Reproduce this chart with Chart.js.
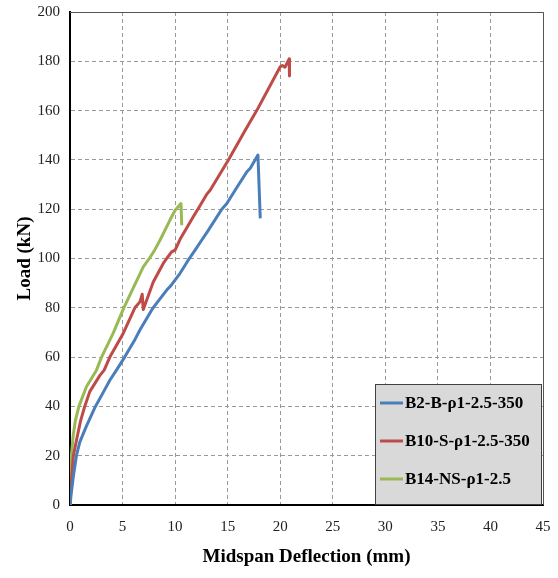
<!DOCTYPE html>
<html>
<head>
<meta charset="utf-8">
<script src="https://cdn.jsdelivr.net/npm/chart.js@4/dist/chart.umd.min.js"></script>
<style>
  html, body { margin: 0; padding: 0; background: #fff; }
  #wrap { width: 558px; height: 578px; }
</style>
</head>
<body>
<div id="wrap"><canvas id="chart" width="558" height="578"></canvas></div>
<script>
const seriesNames = ['B2-B-\u03c11-2.5-350', 'B10-S-\u03c11-2.5-350', 'B14-NS-\u03c11-2.5'];
const seriesColors = ['#4a7ebb', '#be4b48', '#98b954'];

// midspan deflection (mm) / load (kN)
const b2Defl = [0, 0.1, 0.3, 0.61, 0.93, 1.56, 2.42, 3.2, 3.79, 4.42, 5.2, 6.1, 6.65, 7.9, 9.2, 9.6, 10.47, 11.2, 11.9, 12.38, 13.17, 14.44, 14.92, 15.9, 16.83, 17.15, 17.88, 18.1];
const b2Load = [0, 4, 11, 20, 25.5, 32, 40, 46, 50.6, 54.7, 60, 66.5, 71, 80, 87.2, 89, 94, 99, 103.4, 106.5, 111.5, 120, 122.3, 129, 135.2, 136.6, 142, 116.3];

const b10Defl = [0, 0.1, 0.32, 0.7, 1.0, 1.4, 1.88, 2.83, 3.25, 3.79, 5.06, 6.17, 6.65, 6.87, 6.97, 7.29, 7.92, 8.87, 9.2, 9.67, 10.0, 10.47, 11.1, 11.74, 12.38, 13.0, 13.33, 15.07, 16.67, 17.79, 20.0, 20.2, 20.45, 20.85, 20.88];
const b10Load = [0, 8, 20, 28, 34, 40, 46, 52.5, 54.7, 60, 69.6, 80, 82.4, 85.5, 79.3, 83.1, 90.5, 98, 100, 102.7, 103.4, 107.8, 112.4, 117, 121.5, 126, 127.7, 140, 152, 160.2, 177.8, 178.3, 177.6, 181, 174];

const b14Defl = [0, 0.05, 0.13, 0.3, 0.5, 0.85, 1.56, 2.52, 3.0, 4.1, 5.12, 6.01, 6.97, 7.54, 8.0, 8.56, 9.51, 10.0, 10.56, 10.63];
const b14Load = [0, 8, 20, 28, 34, 40, 48, 54.7, 60, 69.6, 80, 88, 96.6, 100, 103, 107.4, 115.6, 119.6, 122.3, 113.5];

const xTicks = [0, 5, 10, 15, 20, 25, 30, 35, 40, 45];
const yTicks = [0, 20, 40, 60, 80, 100, 120, 140, 160, 180, 200];

const serif = "'Liberation Serif', 'Times New Roman', serif";

function toPoints(xs, ys) {
  return xs.map((x, i) => ({ x, y: ys[i] }));
}

// top/right frame lines of the plot area
const frame = {
  id: 'frame',
  afterDraw(chart) {
    const { ctx, chartArea: a } = chart;
    ctx.save();
    ctx.strokeStyle = '#555';
    ctx.lineWidth = 1;
    ctx.beginPath();
    ctx.moveTo(a.left, a.top + 0.5);
    ctx.lineTo(a.right + 0.5, a.top + 0.5);
    ctx.lineTo(a.right + 0.5, a.bottom);
    ctx.stroke();
    ctx.restore();
  }
};

// boxed legend inside the plot, lower right
const boxLegend = {
  id: 'boxLegend',
  afterDraw(chart) {
    const { ctx } = chart;
    const x0 = 375, y0 = 384, w = 166, h = 120;
    ctx.save();
    ctx.fillStyle = '#d9d9d9';
    ctx.fillRect(x0, y0, w, h);
    ctx.strokeStyle = '#404040';
    ctx.lineWidth = 1;
    ctx.strokeRect(x0 + 0.5, y0 + 0.5, w, h);
    ctx.font = 'bold 17px ' + serif;
    ctx.textBaseline = 'middle';
    ctx.fillStyle = '#000';
    const rows = [403, 441, 479];
    chart.data.datasets.forEach((ds, i) => {
      const y = rows[i];
      ctx.strokeStyle = ds.borderColor;
      ctx.lineWidth = 3;
      ctx.beginPath();
      ctx.moveTo(380, y);
      ctx.lineTo(403, y);
      ctx.stroke();
      ctx.fillText(ds.label, 405, y + 1);
    });
    ctx.restore();
  }
};

new Chart(document.getElementById('chart'), {
  type: 'scatter',
  data: {
    datasets: [
      { label: seriesNames[0], data: toPoints(b2Defl, b2Load), borderColor: seriesColors[0] },
      { label: seriesNames[1], data: toPoints(b10Defl, b10Load), borderColor: seriesColors[1] },
      { label: seriesNames[2], data: toPoints(b14Defl, b14Load), borderColor: seriesColors[2] }
    ].map(d => Object.assign(d, {
      showLine: true, pointRadius: 0, borderWidth: 3, tension: 0,
      borderJoinStyle: 'round', backgroundColor: d.borderColor
    }))
  },
  options: {
    responsive: false,
    animation: false,
    layout: { padding: { top: 12, right: 15, left: 0, bottom: 0 } },
    plugins: { legend: { display: false }, tooltip: { enabled: false } },
    scales: {
      x: {
        type: 'linear', min: 0, max: 45,
        afterBuildTicks: s => { s.ticks = xTicks.map(v => ({ value: v })); },
        afterFit: s => { s.height = 73; s.paddingLeft = 0; s.paddingRight = 0; },
        grid: { color: '#9a9a9a', drawTicks: false },
        border: { color: '#000', width: 2, dash: [4, 3] },
        ticks: { padding: 13, color: '#222', font: { family: serif, size: 15 } },
        title: { display: true, text: 'Midspan Deflection (mm)', color: '#000',
          font: { family: serif, size: 19, weight: 'bold' }, padding: { top: 0, bottom: 10 } }
      },
      y: {
        type: 'linear', min: 0, max: 200,
        afterBuildTicks: s => { s.ticks = yTicks.map(v => ({ value: v })); },
        afterFit: s => { s.width = 70; s.paddingTop = 0; s.paddingBottom = 0; },
        grid: { color: '#9a9a9a', drawTicks: false },
        border: { color: '#000', width: 2, dash: [4, 3] },
        ticks: { padding: 10, color: '#222', font: { family: serif, size: 15 } },
        title: { display: true, text: 'Load (kN)', color: '#000',
          font: { family: serif, size: 19, weight: 'bold' }, padding: { top: 14, bottom: 0 } }
      }
    }
  },
  plugins: [frame, boxLegend]
});
</script>
</body>
</html>
